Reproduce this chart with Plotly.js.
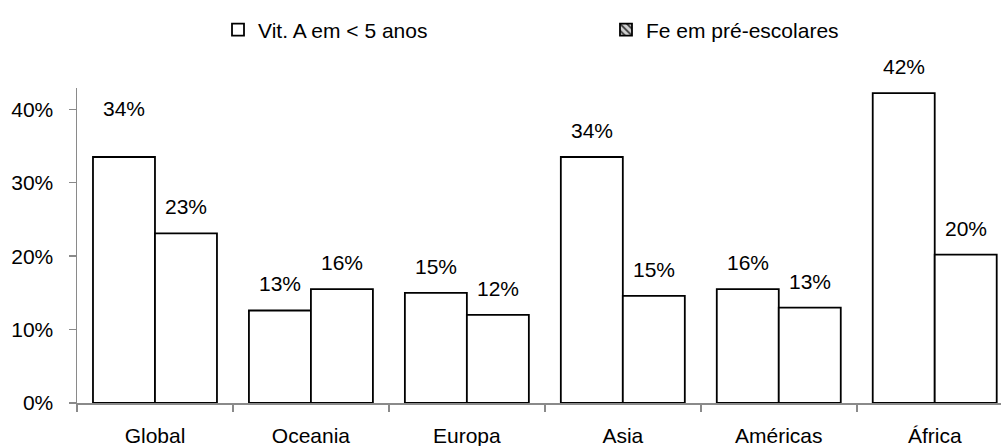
<!DOCTYPE html>
<html>
<head>
<meta charset="utf-8">
<script src="https://cdn.plot.ly/plotly-3.0.1.min.js"></script>
<style>
  html, body { margin: 0; padding: 0; background: #fff; }
  #chart { width: 1001px; height: 446px; }
</style>
</head>
<body>
<div id="chart"></div>
<script>
// Regions and prevalence (%) for the two deficiencies
const regions = ['Global', 'Oceania', 'Europa', 'Asia', 'Américas', 'África'];
const vitAName = 'Vit. A em < 5 anos';
const feName = 'Fe em pré-escolares';
const vitA = [33.5, 12.6, 15.0, 33.5, 15.5, 42.2];
const fe = [23.1, 15.5, 12.0, 14.6, 13.0, 20.2];
const yTicks = [0, 10, 20, 30, 40];

const FONT = '"Liberation Sans", Arial, sans-serif';
const FS = 21;
const AXIS_GREY = '#8a8a8a';
const BARGAP = 0.205;

const barStyle = {
  color: '#ffffff',
  line: { color: '#000000', width: 1.8 }
};

const traces = [
  {
    type: 'bar', name: vitAName, x: regions, y: vitA,
    marker: barStyle, hoverinfo: 'x+y', legend: 'legend'
  },
  {
    type: 'bar', name: feName, x: regions, y: fe,
    marker: barStyle, showlegend: false, hoverinfo: 'x+y'
  },
  // legend key for the iron series (hatched swatch)
  {
    type: 'bar', name: feName, x: [null], y: [null],
    xaxis: 'x2', yaxis: 'y2', showlegend: true, hoverinfo: 'skip', legend: 'legend2',
    marker: {
      color: '#ffffff',
      line: { color: '#000000', width: 1.8 },
      pattern: { shape: '\\', size: 6, solidity: 0.35, fgcolor: '#333333', bgcolor: '#d0d0d0' }
    }
  }
];

// value labels above each bar
const half = (1 - BARGAP) / 4;
const labelNudge = { 0: 22 };
const annotations = [];
regions.forEach((r, i) => {
  annotations.push({
    x: i - half, y: vitA[i], xref: 'x', yref: 'y',
    text: Math.round(vitA[i]) + '%', showarrow: false,
    yanchor: 'bottom', yshift: 13 + (labelNudge[i] || 0),
    font: { family: FONT, size: FS, color: '#000' }
  });
  annotations.push({
    x: i + half, y: fe[i], xref: 'x', yref: 'y',
    text: Math.round(fe[i]) + '%', showarrow: false,
    yanchor: 'bottom', yshift: 13,
    font: { family: FONT, size: FS, color: '#000' }
  });
});

const legendBase = {
  orientation: 'h', xanchor: 'left', y: 1.184, yanchor: 'middle',
  font: { family: FONT, size: FS, color: '#000' },
  bgcolor: 'rgba(0,0,0,0)'
};

const layout = {
  width: 1001, height: 446,
  margin: { l: 77, r: 0, t: 88, b: 43 },
  paper_bgcolor: '#ffffff', plot_bgcolor: '#ffffff',
  font: { family: FONT, size: FS, color: '#000000' },
  barmode: 'group', bargap: BARGAP, bargroupgap: 0,
  showlegend: true,
  legend: Object.assign({}, legendBase, { x: 0.1526 }),
  legend2: Object.assign({}, legendBase, { x: 0.5725 }),
  xaxis: {
    type: 'category', range: [-0.5, 5.425],
    showline: true, linecolor: AXIS_GREY, linewidth: 1.5,
    ticks: 'outside', tickson: 'boundaries', ticklen: 7, tickwidth: 1.5, tickcolor: AXIS_GREY,
    ticklabelstandoff: 13,
    showgrid: false, zeroline: false, fixedrange: true
  },
  yaxis: {
    range: [0, 42.9], tickvals: yTicks, ticktext: yTicks.map(v => v + '%'),
    showline: true, linecolor: AXIS_GREY, linewidth: 1.5,
    ticks: 'outside', ticklen: 7, tickwidth: 1.5, tickcolor: AXIS_GREY,
    ticklabelstandoff: 11,
    showgrid: false, zeroline: false, fixedrange: true
  },
  xaxis2: { overlaying: 'x', visible: false, range: [0, 1] },
  yaxis2: { overlaying: 'y', visible: false, range: [0, 1] },
  annotations: annotations
};

Plotly.newPlot('chart', traces, layout, { displayModeBar: false, staticPlot: true });
</script>
</body>
</html>
